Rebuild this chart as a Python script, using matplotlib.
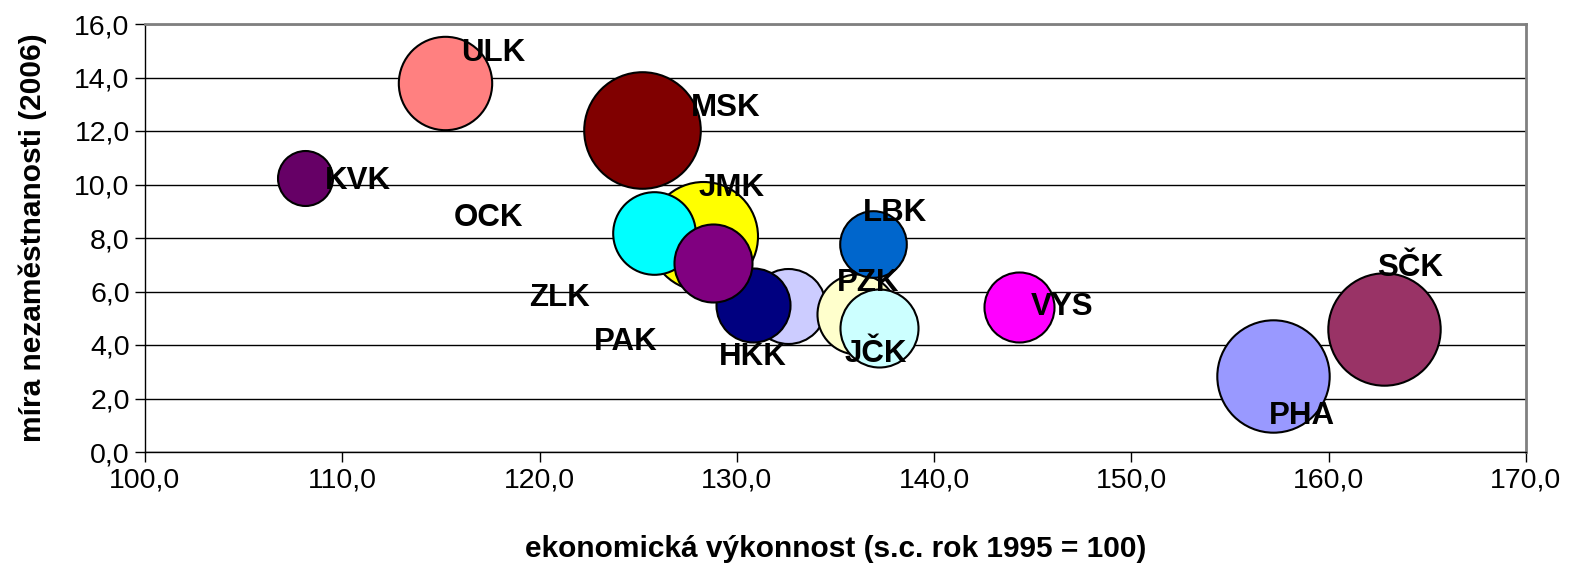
import matplotlib
matplotlib.use("Agg")
import matplotlib.pyplot as plt
from matplotlib.ticker import FuncFormatter, MultipleLocator

plt.rcParams['font.family'] = ['Liberation Sans', 'DejaVu Sans']

# regions: economic performance (1995 = 100), unemployment rate 2006, bubble size
regions = ["PAK", "HKK", "JMK", "OCK", "ZLK", "PZK", "JČK", "LBK",
           "ULK", "MSK", "KVK", "VYS", "PHA", "SČK"]
vykonnost = [132.6, 130.8, 128.3, 125.8, 128.8, 136.1, 137.2, 136.9,
             115.2, 125.2, 108.1, 144.3, 157.2, 162.8]
nezamestnanost = [5.47, 5.51, 8.07, 8.20, 7.08, 5.17, 4.65, 7.78,
                  13.78, 12.05, 10.24, 5.42, 2.83, 4.59]
velikost = [517, 504, 1093, 628, 560, 589, 560, 408,
            802, 1250, 278, 451, 1162, 1162]
barvy = ["#CCCCFF", "#000080", "#FFFF00", "#00FFFF", "#800080", "#FFFFCC",
         "#CCFFFF", "#0066CC", "#FF8080", "#800000", "#660066", "#FF00FF",
         "#9999FF", "#993366"]

# label offsets from bubble centre (pixels, y up)
label_off = {"ULK": (48, 30), "MSK": (84, 22), "KVK": (53, -3), "JMK": (28, 48),
             "OCK": (-165, 15), "LBK": (22, 31), "PZK": (11, 31), "SČK": (26, 61),
             "ZLK": (-154, -35), "VYS": (43, 0), "PAK": (-162, -36), "HKK": (0, -52),
             "JČK": (-3, -26), "PHA": (28, -40)}

fig = plt.figure(figsize=(15.69, 5.63), dpi=100)
ax = fig.add_axes([145 / 1569, 1 - 452 / 563, (1526 - 145) / 1569, (452 - 24) / 563])

scale = 5.635
for i, name in enumerate(regions):
    ax.scatter(vykonnost[i], nezamestnanost[i], s=velikost[i] * scale,
               color=barvy[i], edgecolors="black", linewidths=1.5, zorder=3 + i)

for i, name in enumerate(regions):
    dx, dy = label_off[name]
    ax.annotate(name, (vykonnost[i], nezamestnanost[i]),
                xytext=(dx * 0.72, dy * 0.72), textcoords="offset points",
                ha="center", va="center", fontsize=22.5, fontweight="bold",
                zorder=30)

ax.set_xlim(100, 170)
ax.set_ylim(0, 16)
ax.xaxis.set_major_locator(MultipleLocator(10))
ax.yaxis.set_major_locator(MultipleLocator(2))
fmt = FuncFormatter(lambda v, p: f"{v:.1f}".replace(".", ","))
ax.xaxis.set_major_formatter(fmt)
ax.yaxis.set_major_formatter(fmt)
ax.tick_params(labelsize=20.5, direction="out", length=7, width=1, pad=4)

ax.grid(axis="y", color="black", linewidth=1, zorder=0)
ax.set_axisbelow(True)
for s in ("top", "right"):
    ax.spines[s].set_color("#808080")
    ax.spines[s].set_linewidth(2)
for s in ("left", "bottom"):
    ax.spines[s].set_color("black")
    ax.spines[s].set_linewidth(1)

ax.set_xlabel("ekonomická výkonnost (s.c. rok 1995 = 100)", fontsize=21.5,
              fontweight="bold", labelpad=30)
ax.set_ylabel("míra nezaměstnanosti (2006)", fontsize=21.5, fontweight="bold",
              labelpad=20)

fig.savefig("out.png", dpi=100)
